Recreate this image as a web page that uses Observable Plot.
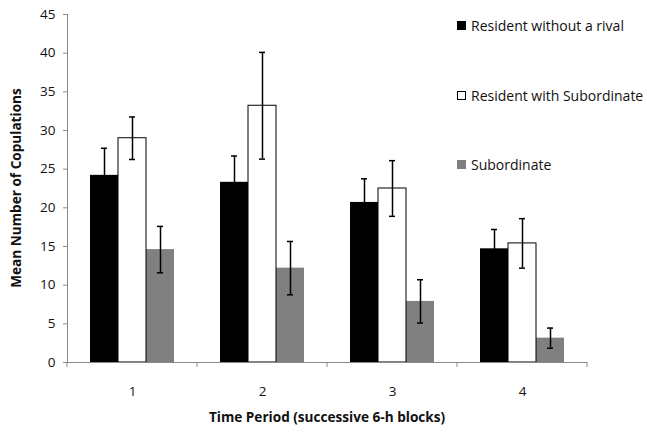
<!DOCTYPE html>
<html>
<head>
<meta charset="utf-8">
<script src="https://cdn.jsdelivr.net/npm/d3@7"></script>
<script src="https://cdn.jsdelivr.net/npm/@observablehq/plot@0.6"></script>
<style>
  html, body { margin: 0; padding: 0; background: #fff; }
  #wrap { position: relative; width: 647px; height: 432px; font-family: "Open Sans", Lato, sans-serif; }
  #legend { position: absolute; left: 457px; top: 0; font-size: 14px; color: #111; }
  .item { position: absolute; white-space: nowrap; display: flex; align-items: center; }
  .sw { width: 9px; height: 9px; box-sizing: border-box; margin-right: 5px; }
</style>
</head>
<body>
<div id="wrap"></div>
<script>
const periods = [1, 2, 3, 4];
const seriesNames = ["Resident without a rival", "Resident with Subordinate", "Subordinate"];
const withoutRival = [24.2, 23.3, 20.7, 14.7];
const withoutRivalErr = [3.5, 3.4, 3.05, 2.5];
const withSubordinate = [29.0, 33.2, 22.5, 15.4];
const withSubordinateErr = [2.75, 6.9, 3.6, 3.2];
const subordinate = [14.6, 12.2, 7.9, 3.15];
const subordinateErr = [3.0, 3.45, 2.8, 1.3];
const yTicks = [0, 5, 10, 15, 20, 25, 30, 35, 40, 45];
const colors = ["#000000", "#ffffff", "#808080"];

const values = [withoutRival, withSubordinate, subordinate];
const errors = [withoutRivalErr, withSubordinateErr, subordinateErr];
const rows = [];
periods.forEach((p, i) => {
  seriesNames.forEach((s, j) => {
    rows.push({period: p, series: s, value: values[j][i], err: errors[j][i]});
  });
});

const axisGray = "#8a8a8a";
const plot = Plot.plot({
  width: 647,
  height: 432,
  marginLeft: 67,
  marginRight: 60,
  marginTop: 14,
  marginBottom: 70,
  style: {fontFamily: "'Open Sans', Lato, sans-serif", fontSize: "13.5px", color: "#111", background: "white", overflow: "visible"},
  fx: {domain: periods, paddingInner: 0, paddingOuter: 0, label: null, tickSize: 0, tickPadding: 24},
  x: {domain: seriesNames, paddingInner: 0, paddingOuter: 0.765, axis: null},
  y: {domain: [0, 45], ticks: yTicks, tickSize: 4, tickPadding: 8, label: null},
  color: {domain: seriesNames, range: colors},
  marks: [
    Plot.barY(rows, {fx: "period", x: "series", y: "value", fill: "series"}),
    Plot.barY(rows.filter(d => d.series === seriesNames[1]), {fx: "period", x: "series", y: "value", fill: "white", stroke: "#000", strokeWidth: 1}),
    Plot.ruleY([0], {stroke: axisGray, strokeWidth: 1}),
    Plot.ruleX(rows, {fx: "period", x: "series", y1: d => d.value - d.err, y2: d => d.value + d.err, stroke: "#000", strokeWidth: 1.5}),
    Plot.tickY(rows, {fx: "period", x: "series", y: d => d.value + d.err, stroke: "#000", strokeWidth: 1.5, insetLeft: 11, insetRight: 11}),
    Plot.tickY(rows, {fx: "period", x: "series", y: d => d.value - d.err, stroke: "#000", strokeWidth: 1.5, insetLeft: 11, insetRight: 11})
  ]
});

const svg = d3.select(plot);
svg.selectAll('g[aria-label="y-axis tick"] path, g[aria-label="y-axis"] line').attr("stroke", axisGray);

// y axis line and period boundary ticks, placed from the library's scales
const fx = plot.scale("fx");
const ys = plot.scale("y");
const left = fx.range[0], right = fx.range[1];
const step = (right - left) / fx.domain.length;
const y0 = ys.range[0], y1 = ys.range[1];
const g = svg.append("g").attr("stroke", axisGray).attr("stroke-width", 1);
g.append("line").attr("x1", left + 0.5).attr("x2", left + 0.5).attr("y1", y0).attr("y2", y1);
for (let k = 0; k <= fx.domain.length; k++) {
  const x = left + k * step;
  g.append("line").attr("x1", x).attr("x2", x).attr("y1", y0).attr("y2", y0 + 5);
}

// axis titles
svg.append("text").attr("transform", `translate(17,${(y0 + y1) / 2}) rotate(-90)`)
  .attr("text-anchor", "middle").attr("dominant-baseline", "middle")
  .attr("font-weight", "bold").attr("font-size", 13.6).attr("fill", "#111").text("Mean Number of Copulations");
svg.append("text").attr("x", (left + right) / 2).attr("y", 418)
  .attr("text-anchor", "middle").attr("dominant-baseline", "middle")
  .attr("font-weight", "bold").attr("font-size", 13.6).attr("fill", "#111").text("Time Period (successive 6-h blocks)");

const wrap = document.getElementById("wrap");
wrap.appendChild(plot);

// legend
const legend = document.createElement("div");
legend.id = "legend";
const legendTops = [16, 86, 155];
seriesNames.forEach((s, j) => {
  const item = document.createElement("div");
  item.className = "item";
  item.style.top = legendTops[j] + "px";
  const sw = document.createElement("span");
  sw.className = "sw";
  sw.style.background = colors[j];
  if (j === 1) sw.style.border = "1px solid #000";
  item.appendChild(sw);
  const t = document.createElement("span");
  t.textContent = s;
  item.appendChild(t);
  legend.appendChild(item);
});
wrap.appendChild(legend);
</script>
</body>
</html>
